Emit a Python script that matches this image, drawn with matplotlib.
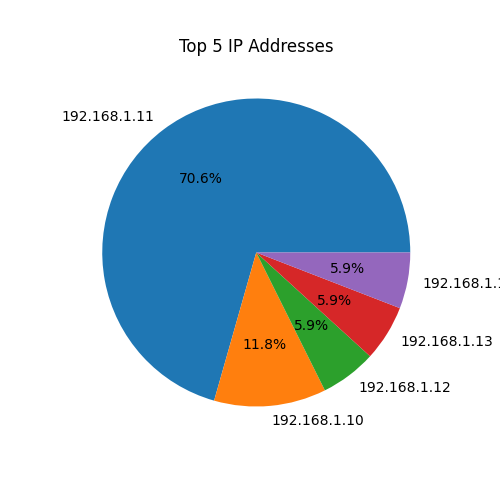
import matplotlib.pyplot as plt

ip_labels = ['192.168.1.11', '192.168.1.10', '192.168.1.12', '192.168.1.13', '192.168.1.14']
counts = [12, 2, 1, 1, 1]

plt.figure(figsize=(5, 5), dpi=100)
plt.pie(counts, labels=ip_labels, autopct='%1.1f%%')
plt.title('Top 5 IP Addresses')
plt.savefig('out.png')
